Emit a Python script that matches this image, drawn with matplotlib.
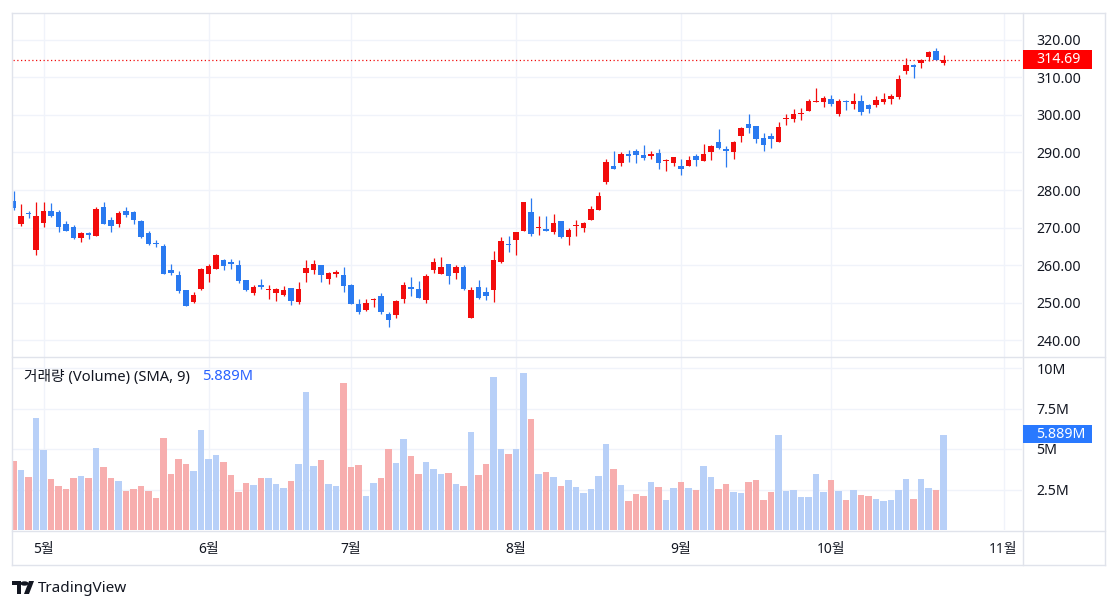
"""
Candlestick + volume chart in the style of a TradingView widget (Korean locale).
"""
import matplotlib
matplotlib.use('Agg')
import matplotlib.pyplot as plt
from matplotlib.patches import Rectangle, Circle, Polygon
from matplotlib.lines import Line2D
import numpy as np
import pandas as pd

plt.rcParams['font.family'] = ['Noto Sans', 'Noto Sans CJK KR', 'DejaVu Sans']

# ---- data ----
start_date = '2024-04-25'
holidays = ['2024-05-27', '2024-06-19', '2024-07-04', '2024-09-02']

opens = [277.1, 270.9, 274.0, 264.0, 271.3, 274.4, 274.1, 271.0, 270.1, 267.3,
         268.6, 267.8, 275.5, 272.0, 271.0, 274.4, 274.1, 271.8, 268.6, 266.0,
         265.1, 258.7, 257.4, 253.3, 250.2, 253.7, 257.7, 259.0, 261.3, 260.8,
         260.0, 256.0, 252.5, 254.8, 253.3, 252.5, 252.1, 254.0, 250.1, 257.9,
         258.8, 260.0, 256.4, 257.7, 257.3, 254.7, 249.6, 248.1, 250.8, 251.7,
         247.1, 246.7, 251.0, 254.1, 253.6, 250.7, 258.8, 257.7, 260.3, 258.0,
         259.5, 246.0, 254.1, 252.9, 253.3, 260.8, 265.5, 266.6, 269.2, 274.2,
         269.8, 269.7, 268.7, 271.8, 267.5, 270.3, 269.8, 272.0, 274.6, 282.1,
         286.3, 287.1, 289.6, 290.4, 289.3, 289.0, 289.9, 287.7, 287.3, 286.5,
         286.5, 289.1, 287.6, 290.0, 292.8, 291.0, 290.0, 294.5, 297.6, 297.1,
         293.8, 294.4, 292.9, 298.8, 299.0, 300.3, 301.1, 303.5, 303.4, 304.3,
         300.2, 303.7, 302.8, 303.6, 302.6, 302.6, 303.5, 304.1, 304.8, 311.6,
         313.2, 313.7, 315.3, 317.1, 313.8]
highs = [279.7, 276.2, 274.3, 276.9, 276.7, 276.5, 274.7, 271.8, 270.7, 268.9,
         268.7, 275.6, 276.8, 272.8, 274.4, 275.6, 274.3, 272.0, 269.2, 266.7,
         265.6, 260.2, 258.4, 253.5, 252.8, 259.3, 260.2, 263.0, 261.7, 261.6,
         261.3, 256.0, 254.7, 256.3, 254.7, 253.8, 254.4, 254.0, 255.5, 261.4,
         261.3, 260.0, 258.2, 258.7, 259.5, 254.9, 251.0, 250.9, 251.2, 252.6,
         247.4, 250.6, 255.6, 256.8, 255.8, 257.6, 261.9, 262.1, 260.3, 260.0,
         260.0, 254.1, 256.0, 254.1, 263.8, 267.4, 267.8, 268.9, 276.8, 278.0,
         273.1, 273.1, 273.7, 271.8, 269.8, 272.1, 271.4, 275.8, 279.5, 288.2,
         290.4, 290.0, 290.6, 290.9, 292.1, 290.4, 291.0, 288.3, 288.8, 288.2,
         289.1, 289.6, 292.3, 292.0, 296.3, 291.6, 293.0, 296.9, 300.3, 297.1,
         295.3, 295.3, 298.1, 300.3, 301.5, 301.7, 304.2, 307.1, 305.0, 305.2,
         304.1, 303.9, 305.7, 305.2, 302.8, 304.9, 305.8, 305.5, 310.5, 315.2,
         313.6, 314.9, 317.1, 317.8, 315.8]
lows = [274.7, 270.4, 272.6, 262.7, 270.2, 272.9, 268.9, 269.0, 267.0, 266.2,
        267.0, 267.7, 270.9, 268.9, 270.2, 272.9, 270.9, 267.3, 265.4, 264.7,
        257.7, 257.3, 252.5, 249.2, 249.8, 253.5, 255.6, 259.0, 258.8, 259.1,
        255.3, 253.1, 252.1, 253.6, 251.0, 250.5, 251.9, 249.3, 249.7, 255.6,
        257.6, 255.6, 254.9, 256.9, 252.9, 249.7, 247.1, 247.9, 248.8, 247.1,
        243.6, 246.0, 250.0, 251.8, 251.3, 250.0, 258.0, 257.7, 255.1, 256.4,
        253.4, 246.0, 251.1, 250.8, 250.3, 260.6, 263.4, 262.6, 269.0, 267.8,
        268.0, 269.1, 268.2, 267.1, 265.4, 267.7, 268.7, 272.0, 274.6, 281.7,
        285.5, 286.5, 287.5, 287.3, 288.1, 288.2, 285.6, 285.0, 286.5, 283.9,
        286.3, 286.3, 287.6, 287.9, 290.9, 286.0, 288.3, 292.9, 295.3, 292.5,
        290.5, 291.1, 292.9, 297.2, 298.0, 298.5, 300.9, 303.5, 302.1, 302.3,
        299.7, 301.2, 301.5, 299.9, 300.5, 302.1, 302.8, 302.9, 304.3, 310.9,
        309.9, 312.4, 314.3, 314.5, 313.2]
closes = [275.3, 273.1, 273.6, 273.0, 274.4, 273.1, 270.2, 269.2, 267.3, 268.6,
          267.9, 274.9, 271.0, 270.5, 273.8, 273.4, 272.0, 267.6, 265.7, 265.6,
          257.7, 258.0, 253.2, 249.2, 252.0, 258.9, 259.8, 262.8, 259.9, 260.4,
          255.7, 253.3, 254.1, 254.1, 253.6, 253.6, 253.3, 250.5, 253.6, 259.2,
          260.4, 257.3, 258.0, 258.2, 254.5, 249.7, 247.6, 250.0, 251.1, 247.6,
          245.4, 250.4, 254.7, 253.7, 251.3, 257.2, 260.8, 259.6, 257.0, 259.6,
          253.6, 253.3, 251.2, 251.9, 261.4, 266.5, 265.3, 268.9, 276.8, 268.4,
          270.1, 269.2, 271.3, 267.6, 269.4, 270.5, 271.2, 275.0, 278.4, 287.4,
          285.5, 289.7, 289.1, 289.4, 288.6, 289.6, 287.1, 288.1, 288.8, 285.6,
          288.1, 287.9, 289.6, 291.6, 291.1, 290.3, 292.7, 296.6, 296.6, 293.7,
          291.9, 293.7, 296.8, 299.1, 300.3, 300.5, 303.7, 303.8, 304.4, 302.8,
          303.6, 303.4, 303.7, 300.8, 301.5, 303.9, 304.2, 305.0, 309.6, 313.4,
          312.7, 314.7, 316.6, 314.6, 314.69]
# volume in millions of shares
volumes = [4.28, 3.72, 3.29, 6.94, 4.92, 3.16, 2.73, 2.56, 3.22, 3.35,
           3.22, 5.08, 3.90, 3.22, 3.04, 2.42, 2.54, 2.73, 2.42, 1.98,
           5.70, 3.47, 4.40, 4.09, 3.66, 6.20, 4.40, 4.65, 4.21, 3.41,
           2.36, 2.91, 2.79, 3.22, 3.22, 2.85, 2.60, 3.04, 4.09, 8.49,
           3.97, 4.34, 2.85, 2.73, 9.05, 3.90, 4.03, 2.11, 2.91, 3.22,
           5.02, 4.15, 5.64, 4.59, 3.47, 4.21, 3.78, 3.47, 3.53, 2.85,
           2.73, 6.07, 3.41, 4.09, 9.42, 5.02, 4.71, 5.02, 9.67, 6.88,
           3.47, 3.60, 3.29, 2.73, 3.10, 2.67, 2.29, 2.54, 3.35, 5.33,
           3.78, 2.79, 1.80, 2.23, 2.11, 2.98, 2.67, 1.86, 2.60, 2.98,
           2.60, 2.48, 3.97, 3.29, 2.54, 2.85, 2.36, 2.29, 2.98, 3.10,
           1.86, 2.36, 5.89, 2.42, 2.48, 2.05, 2.05, 3.47, 2.36, 3.10,
           2.42, 1.86, 2.48, 2.17, 2.11, 1.92, 1.80, 1.86, 2.48, 3.16,
           1.92, 3.16, 2.60, 2.48, 5.889]

price_ticks = [240, 250, 260, 270, 280, 290, 300, 310, 320]
vol_ticks = [2.5, 5, 7.5, 10]
vol_tick_labels = ['2.5M', '5M', '7.5M', '10M']

# ---- colours ----
up_color = '#F20C0C'
down_color = '#2A7AF0'
vol_up_color = '#B8D0F8'     # volume bar of a rising candle
vol_down_color = '#F7AEAE'   # volume bar of a falling candle
grid_color = '#F0F3FA'
frame_color = '#E0E3EB'
text_color = '#131722'

W, H = 1118, 609


def fx(x):
    return x / W


def fy(y):
    return 1 - y / H


fig = plt.figure(figsize=(W / 100, H / 100), dpi=100)
fig.patch.set_facecolor('white')

# axes placed in pixel coordinates of the reference
left, right = 13, 1022
ax = fig.add_axes([fx(left), fy(357), fx(right - left), (357 - 14) / H])
axv = fig.add_axes([fx(left), fy(530), fx(right - left), (530 - 357) / H])

# trading days (with future days to place the next month label)
dates = pd.bdate_range(start_date, '2024-11-29', freq='C', holidays=holidays)
n = len(closes)
idx = np.arange(n)
months = pd.Series(dates.month)
month_starts = list(np.where(months.ne(months.shift()).values)[0][1:])
month_labels = [f'{dates[i].month}월' for i in month_starts]

o = np.array(opens)
h = np.array(highs)
l = np.array(lows)
c = np.array(closes)
v = np.array(volumes)
is_up = c >= o
colors = np.where(is_up, up_color, down_color)

# ---- candles ----
body_bottom = np.minimum(o, c)
body_height = np.maximum(np.abs(c - o), 0.28)
ax.vlines(idx, l, h, colors=colors, linewidth=0.9, zorder=3)
ax.bar(idx, body_height, bottom=body_bottom, width=0.68, color=colors,
       linewidth=0, zorder=4)

# last price line
ax.axhline(c[-1], color=up_color, linestyle=(0, (1, 2)), linewidth=0.9, zorder=2)

# ---- volume ----
vcolors = np.where(is_up, vol_up_color, vol_down_color)
axv.bar(idx, v, width=0.86, color=vcolors, linewidth=0, zorder=3)

# ---- axes cosmetics ----
xlim = (-(0.5) / 7.5, (right - 13.5) / 7.5)
for a in (ax, axv):
    a.set_xlim(*xlim)
    for s in a.spines.values():
        s.set_visible(False)
    a.set_facecolor('none')
    for m in month_starts:
        a.axvline(m, color=grid_color, linewidth=1, zorder=0)

ax.set_ylim(280 - (357 - 190) / 3.757, 280 + (190 - 14) / 3.757)
ax.set_yticks(price_ticks)
ax.set_yticklabels([f'{t:.2f}' for t in price_ticks])
ax.yaxis.tick_right()
ax.tick_params(axis='y', length=0, pad=10.5, labelsize=10.2, labelcolor=text_color)
ax.set_xticks([])
for t in price_ticks:
    ax.axhline(t, color=grid_color, linewidth=1, zorder=0)

axv.set_ylim(0, (530 - 357) / 40.5 * 2.5)
axv.set_yticks(vol_ticks)
axv.set_yticklabels(vol_tick_labels)
axv.yaxis.tick_right()
axv.tick_params(axis='y', length=0, pad=10.5, labelsize=10.2, labelcolor=text_color)
for t in vol_ticks:
    axv.axhline(t, color=grid_color, linewidth=1, zorder=0)
axv.set_xticks(month_starts)
axv.set_xticklabels(month_labels)
axv.tick_params(axis='x', length=0, pad=9, labelsize=10, labelcolor=text_color)

# ---- frame lines ----
frame = [((12, 13), (1105, 13)), ((12, 565), (1105, 565)),
         ((12, 13), (12, 565)), ((1105, 13), (1105, 565)),
         ((1022.5, 13), (1022.5, 565)), ((12, 357), (1105, 357)),
         ((12, 530.5), (1105, 530.5))]
for (x0, y0), (x1, y1) in frame:
    fig.add_artist(Line2D([fx(x0), fx(x1)], [fy(y0), fy(y1)],
                          color=frame_color, linewidth=1))

# ---- value labels on the right scale ----
fig.add_artist(Rectangle((fx(1023), fy(69)), fx(69), 19 / H,
                         facecolor='#FF0000', edgecolor='none', zorder=5))
fig.text(fx(1036), fy(59.5), f'{c[-1]:.2f}', color='white', fontsize=10.2,
         ha='left', va='center', zorder=6)
fig.add_artist(Rectangle((fx(1023), fy(443)), fx(69), 18 / H,
                         facecolor='#2979FF', edgecolor='none', zorder=5))
fig.text(fx(1036), fy(434), f'{v[-1]:.3f}M', color='white', fontsize=10.2,
         ha='left', va='center', zorder=6)

# ---- volume legend ----
fig.text(fx(24), fy(377), '거래량 (Volume) (SMA, 9)', color=text_color,
         fontsize=10.6, ha='left', va='center')
fig.text(fx(202), fy(377), f'{v[-1]:.3f}M', color='#2962FF',
         fontsize=10.6, ha='left', va='center')

# ---- TradingView mark ----
logo = '#131722'
fig.add_artist(Rectangle((fx(12), fy(585)), fx(9), 4 / H, facecolor=logo, edgecolor='none'))
fig.add_artist(Rectangle((fx(17), fy(594)), fx(4), 13 / H, facecolor=logo, edgecolor='none'))
fig.add_artist(Circle((fx(24.5), fy(583.5)), 2.2 / H, facecolor=logo, edgecolor='none',
                      transform=fig.transFigure))
fig.add_artist(Polygon([(fx(29), fy(581)), (fx(34), fy(581)), (fx(29), fy(594)), (fx(24), fy(594))],
                       closed=True, facecolor=logo, edgecolor='none'))
fig.text(fx(38), fy(588), 'TradingView', color=logo, fontsize=11,
         ha='left', va='center')

fig.savefig('out.png', dpi=100, facecolor='white')
